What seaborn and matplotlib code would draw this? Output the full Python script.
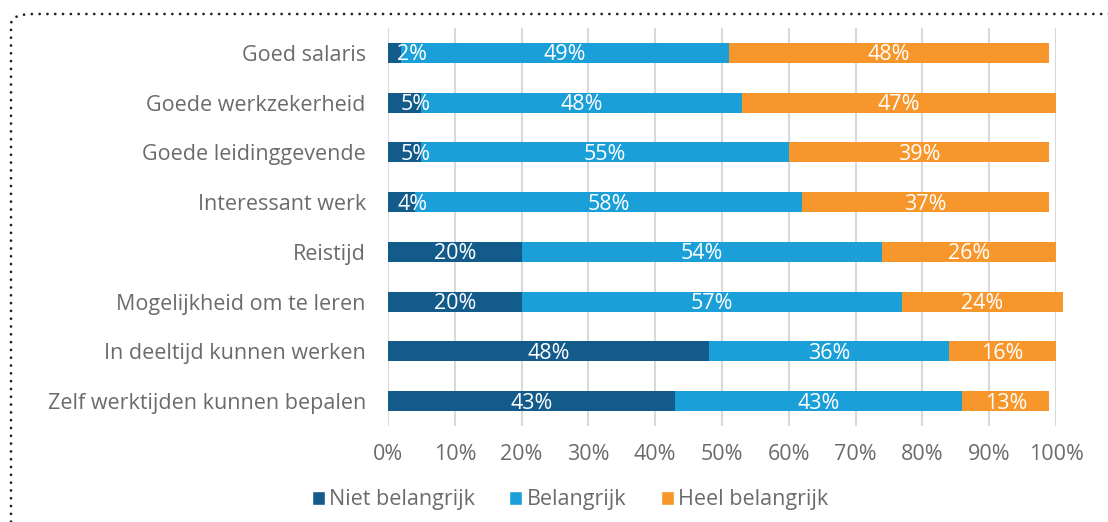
import matplotlib
matplotlib.use("Agg")
import matplotlib.pyplot as plt
import pandas as pd
import seaborn as sns
import numpy as np
from matplotlib.patches import FancyBboxPatch, Patch
from matplotlib.ticker import PercentFormatter

# data (percentages)
categories = ["Goed salaris", "Goede werkzekerheid", "Goede leidinggevende",
              "Interessant werk", "Reistijd", "Mogelijkheid om te leren",
              "In deeltijd kunnen werken", "Zelf werktijden kunnen bepalen"]
niet_belangrijk = [2, 5, 5, 4, 20, 20, 48, 43]
belangrijk = [49, 48, 55, 58, 54, 57, 36, 43]
heel_belangrijk = [48, 47, 39, 37, 26, 24, 16, 13]
series_names = ["Niet belangrijk", "Belangrijk", "Heel belangrijk"]
colors = ["#135b8b", "#1a9fd8", "#f7962a"]

df = pd.DataFrame({"cat": categories, "niet": niet_belangrijk,
                   "bel": belangrijk, "heel": heel_belangrijk})
df["cum1"] = df["niet"]
df["cum2"] = df["niet"] + df["bel"]
df["cum3"] = df["cum2"] + df["heel"]

sns.set_theme(style="white")
plt.rcParams["font.family"] = ["Open Sans", "DejaVu Sans"]
textgray = "#6b6b6b"
fs = 15.5

fig = plt.figure(figsize=(11.08, 5.22), dpi=100)
ax = fig.add_axes([388 / 1108, 96 / 522, 668 / 1108, 398 / 522])

# stacked bars: draw the cumulative totals from the widest down
for col, c in zip(["cum3", "cum2", "cum1"], colors[::-1]):
    sns.barplot(data=df, x=col, y="cat", orient="h", color=c,
                width=0.4, ax=ax, saturation=1, linewidth=0)
for p in ax.patches:
    p.set_clip_on(False)

ax.set_xlim(0, 100)
ax.set_ylim(7.5, -0.5)
ax.set_xticks(np.arange(0, 101, 10))
ax.xaxis.set_major_formatter(PercentFormatter(decimals=0))
ax.grid(axis="x", color="#d9d9d9", linewidth=1.5, zorder=0)
ax.set_axisbelow(True)
for s in ax.spines.values():
    s.set_visible(False)
ax.set_xlabel("")
ax.set_ylabel("")
ax.tick_params(axis="y", length=0, pad=16, labelsize=fs, labelcolor=textgray)
ax.tick_params(axis="x", length=0, pad=13, labelsize=fs, labelcolor=textgray)

# value labels
for i in range(len(categories)):
    n, b, h = niet_belangrijk[i], belangrijk[i], heel_belangrijk[i]
    xs = [max(n / 2 + 1.7, 3.6) if n < 10 else n / 2, n + b / 2, n + b + h / 2]
    for x, v in zip(xs, [n, b, h]):
        ax.text(x, i + 0.04, f"{v}%", ha="center", va="center", color="white",
                fontsize=fs)

handles = [Patch(facecolor=c, label=l) for c, l in zip(colors, series_names)]
fig.legend(handles=handles, loc="center", bbox_to_anchor=(570 / 1108, 1 - 500 / 522),
           ncol=3, frameon=False, fontsize=fs, handlelength=0.6, handleheight=0.6,
           handletextpad=0.2, columnspacing=1.6, labelcolor=textgray)

# dotted frame with rounded corner (top-left visible)
frame = FancyBboxPatch((11 / 1108, -0.2), 1.2, 1.2 - 14 / 522,
                       boxstyle="round,pad=0,rounding_size=0.02",
                       transform=fig.transFigure, fill=False, edgecolor="#222222",
                       linewidth=2, linestyle=(0, (0.01, 2.8)), clip_on=False)
frame.set_capstyle("round")
fig.patches.append(frame)

fig.savefig("out.png", dpi=100)
